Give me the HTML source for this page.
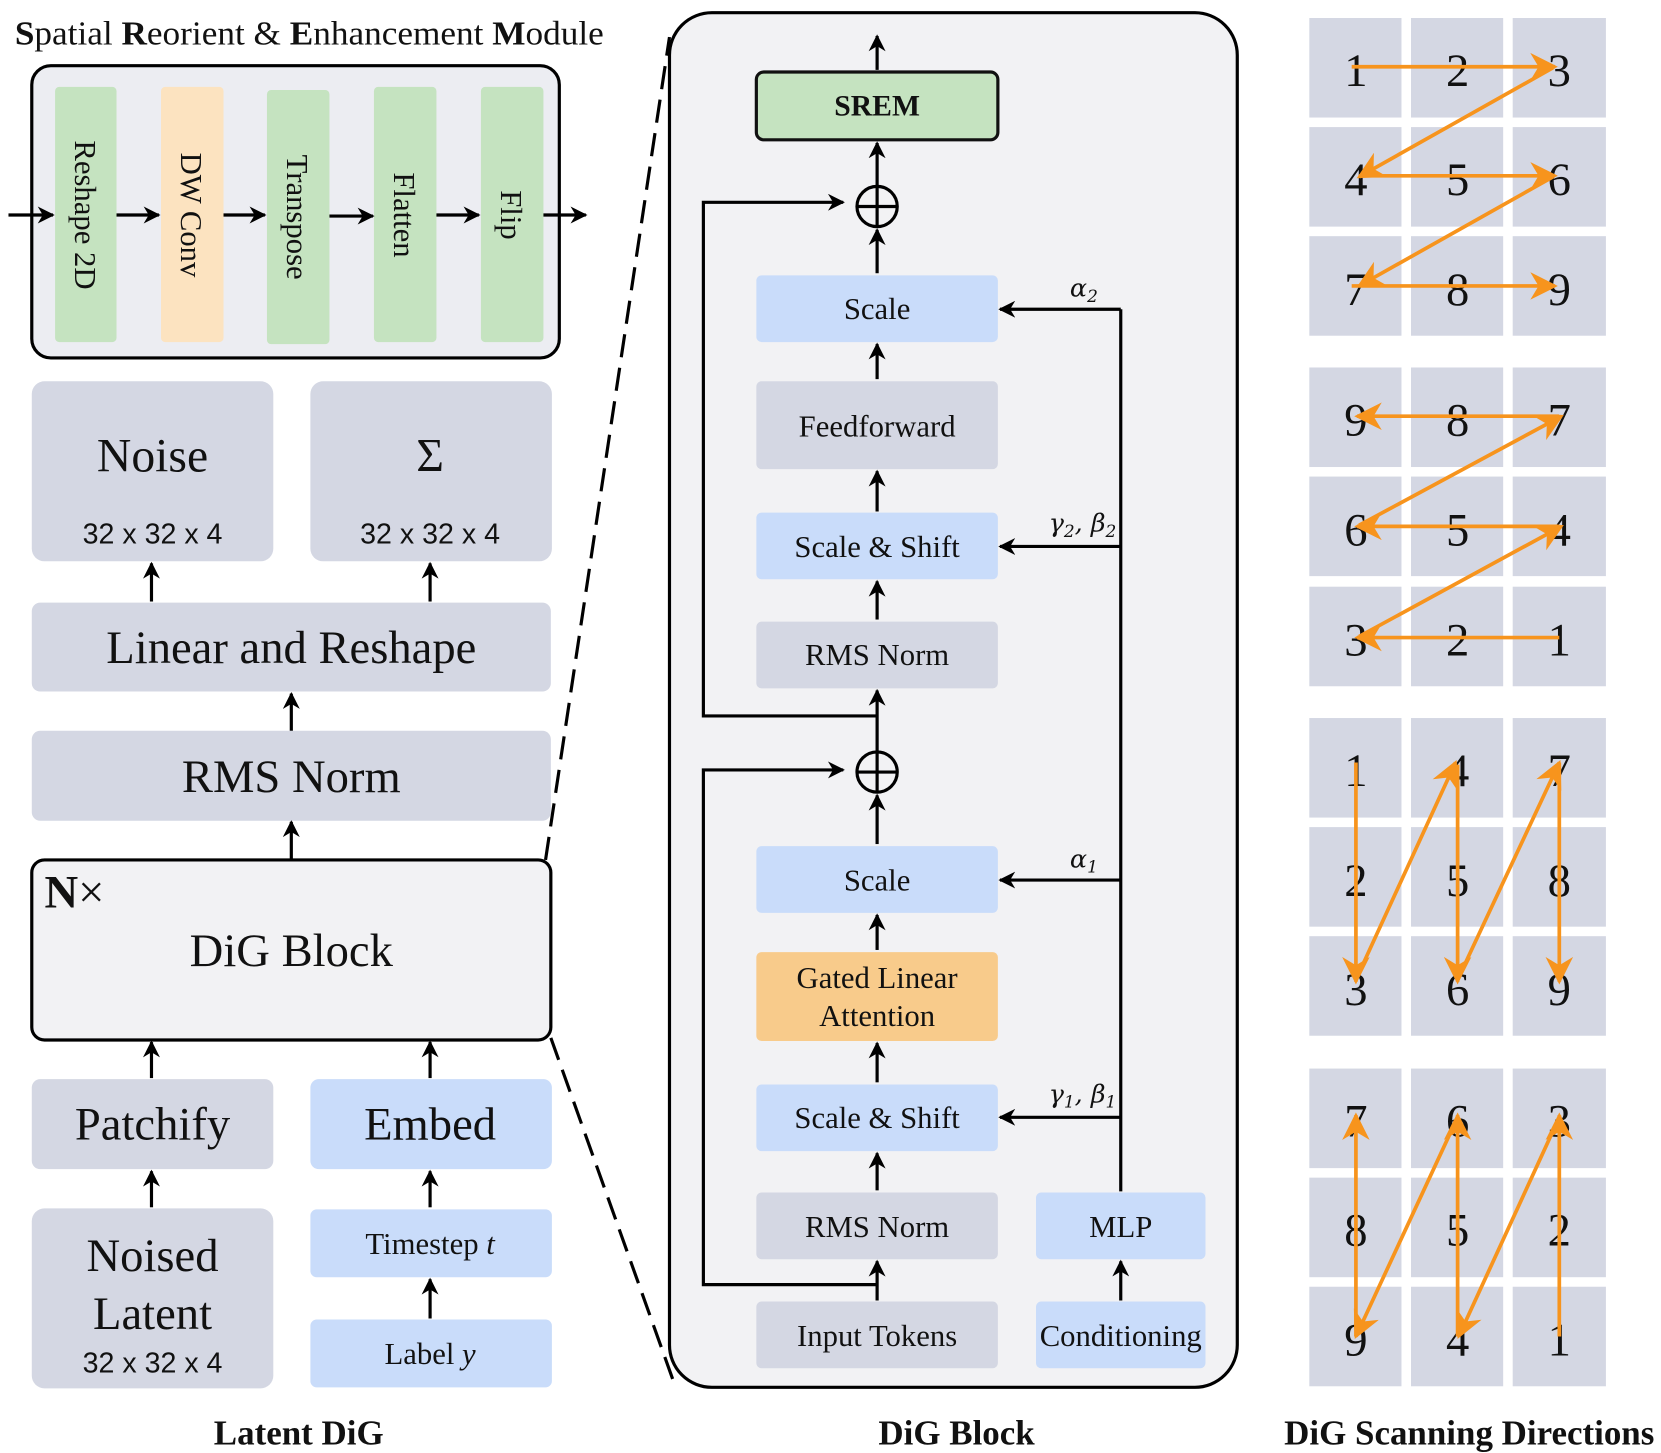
<!DOCTYPE html>
<html><head><meta charset="utf-8"><style>
html,body{margin:0;padding:0;background:#fff}
svg{display:block}
.s{font-family:"Liberation Serif",serif;fill:#111}
.a{font-family:"Liberation Sans",sans-serif;fill:#111}
</style></head><body>
<svg width="1661" height="1453" viewBox="0 0 1568 1372" preserveAspectRatio="none" xmlns="http://www.w3.org/2000/svg">
<defs>
<marker id="k" viewBox="0 0 10 10" refX="9" refY="5" markerWidth="16" markerHeight="16" markerUnits="userSpaceOnUse" orient="auto"><path d="M0,0 L10,5 L0,10 L3,5 z" fill="#000"/></marker>
<marker id="o" viewBox="0 0 10 10" refX="9" refY="5" markerWidth="26" markerHeight="26" markerUnits="userSpaceOnUse" orient="auto"><path d="M0,0 L10,5 L0,10 L3,5 z" fill="#f7941d"/></marker>
</defs>

<!-- SREM module -->
<text x="14" y="42" class="s" font-size="32" textLength="556" lengthAdjust="spacingAndGlyphs"><tspan font-weight="bold">S</tspan>patial <tspan font-weight="bold">R</tspan>eorient &amp; <tspan font-weight="bold">E</tspan>nhancement <tspan font-weight="bold">M</tspan>odule</text>
<rect x="30" y="62" width="498" height="276" rx="18" fill="#ecedf2" stroke="#000" stroke-width="3"/>
<rect x="52" y="82" width="58" height="241" rx="4" fill="#c5e3c0"/>
<rect x="152" y="82" width="59" height="241" rx="4" fill="#fce3c0"/>
<rect x="252" y="85" width="59" height="240" rx="4" fill="#c5e3c0"/>
<rect x="353" y="82" width="59" height="241" rx="4" fill="#c5e3c0"/>
<rect x="454" y="82" width="59" height="241" rx="4" fill="#c5e3c0"/>
<g class="s" font-size="29" text-anchor="middle">
<text transform="translate(71,203) rotate(90)">Reshape 2D</text>
<text transform="translate(171,203) rotate(90)">DW Conv</text>
<text transform="translate(271,205) rotate(90)">Transpose</text>
<text transform="translate(372,203) rotate(90)">Flatten</text>
<text transform="translate(473,203) rotate(90)">Flip</text>
</g>
<g stroke="#000" stroke-width="3" marker-end="url(#k)">
<line x1="8" y1="203" x2="50" y2="203"/><line x1="110" y1="203" x2="150" y2="203"/><line x1="211" y1="203" x2="250" y2="203"/><line x1="311" y1="204" x2="352" y2="204"/><line x1="412" y1="203" x2="452" y2="203"/><line x1="513" y1="203" x2="553" y2="203"/>
</g>

<!-- Latent DiG -->
<rect x="30" y="360" width="228" height="170" rx="12" fill="#d4d7e3"/>
<rect x="293" y="360" width="228" height="170" rx="12" fill="#d4d7e3"/>
<text x="144" y="445" class="s" font-size="45" text-anchor="middle">Noise</text>
<text x="406" y="445" class="s" font-size="45" text-anchor="middle">Σ</text>
<text x="144" y="513" class="a" font-size="27" text-anchor="middle">32 x 32 x 4</text>
<text x="406" y="513" class="a" font-size="27" text-anchor="middle">32 x 32 x 4</text>
<rect x="30" y="569" width="490" height="84" rx="8" fill="#d4d7e3"/>
<text x="275" y="626" class="s" font-size="44" text-anchor="middle">Linear and Reshape</text>
<rect x="30" y="690" width="490" height="85" rx="8" fill="#d4d7e3"/>
<text x="275" y="748" class="s" font-size="44" text-anchor="middle">RMS Norm</text>
<rect x="30" y="812" width="490" height="170" rx="12" fill="#f2f2f4" stroke="#000" stroke-width="3"/>
<text x="42" y="857" class="s" font-size="44"><tspan font-weight="bold">N</tspan>×</text>
<text x="275" y="912" class="s" font-size="44" text-anchor="middle">DiG Block</text>
<rect x="30" y="1019" width="228" height="85" rx="8" fill="#d4d7e3"/>
<rect x="293" y="1019" width="228" height="85" rx="8" fill="#c9dcfa"/>
<text x="144" y="1076" class="s" font-size="44" text-anchor="middle">Patchify</text>
<text x="406" y="1076" class="s" font-size="44" text-anchor="middle">Embed</text>
<rect x="30" y="1141" width="228" height="170" rx="12" fill="#d4d7e3"/>
<text x="144" y="1200" class="s" font-size="44" text-anchor="middle">Noised</text>
<text x="144" y="1255" class="s" font-size="44" text-anchor="middle">Latent</text>
<text x="144" y="1296" class="a" font-size="27" text-anchor="middle">32 x 32 x 4</text>
<rect x="293" y="1142" width="228" height="64" rx="6" fill="#c9dcfa"/>
<text x="406" y="1184" class="s" font-size="29" text-anchor="middle">Timestep <tspan font-style="italic">t</tspan></text>
<rect x="293" y="1246" width="228" height="64" rx="6" fill="#c9dcfa"/>
<text x="406" y="1288" class="s" font-size="29" text-anchor="middle">Label <tspan font-style="italic">y</tspan></text>
<g stroke="#000" stroke-width="3" marker-end="url(#k)">
<line x1="143" y1="568" x2="143" y2="532"/><line x1="406" y1="568" x2="406" y2="532"/>
<line x1="275" y1="690" x2="275" y2="655"/><line x1="275" y1="812" x2="275" y2="776"/>
<line x1="143" y1="1018" x2="143" y2="984"/><line x1="406" y1="1018" x2="406" y2="984"/>
<line x1="143" y1="1140" x2="143" y2="1106"/><line x1="406" y1="1140" x2="406" y2="1106"/>
<line x1="406" y1="1245" x2="406" y2="1208"/>
</g>
<g stroke="#000" stroke-width="3" stroke-dasharray="22,10" fill="none">
<line x1="515" y1="812" x2="632" y2="35"/><line x1="520" y1="980" x2="636" y2="1305"/>
</g>

<!-- DiG Block detail -->
<rect x="632" y="12" width="536" height="1298" rx="40" fill="#f2f2f4" stroke="#000" stroke-width="3"/>
<rect x="714" y="68" width="228" height="64" rx="7" fill="#c5e3c0" stroke="#111" stroke-width="3"/>
<text x="828" y="109" class="s" font-size="28" font-weight="bold" text-anchor="middle">SREM</text>
<g fill="#c9dcfa"><rect x="714" y="260" width="228" height="63" rx="5"/><rect x="714" y="484" width="228" height="63" rx="5"/><rect x="714" y="799" width="228" height="63" rx="5"/><rect x="714" y="1024" width="228" height="63" rx="5"/><rect x="978" y="1126" width="160" height="63" rx="5"/><rect x="978" y="1229" width="160" height="63" rx="5"/></g>
<g fill="#d4d7e3"><rect x="714" y="360" width="228" height="83" rx="5"/><rect x="714" y="587" width="228" height="63" rx="5"/><rect x="714" y="1126" width="228" height="63" rx="5"/><rect x="714" y="1229" width="228" height="63" rx="5"/></g>
<rect x="714" y="899" width="228" height="84" rx="5" fill="#f8cb8b"/>
<g class="s" font-size="29" text-anchor="middle">
<text x="828" y="301">Scale</text><text x="828" y="412">Feedforward</text><text x="828" y="526">Scale &amp; Shift</text><text x="828" y="628">RMS Norm</text>
<text x="828" y="841">Scale</text><text x="828" y="933">Gated Linear</text><text x="828" y="969">Attention</text><text x="828" y="1065">Scale &amp; Shift</text><text x="828" y="1168">RMS Norm</text><text x="828" y="1271">Input Tokens</text>
<text x="1058" y="1168">MLP</text><text x="1058" y="1271">Conditioning</text>
</g>
<g fill="none" stroke="#000" stroke-width="3">
<circle cx="828" cy="195" r="19"/><line x1="809" y1="195" x2="847" y2="195"/><line x1="828" y1="176" x2="828" y2="214"/>
<circle cx="828" cy="729" r="19"/><line x1="809" y1="729" x2="847" y2="729"/><line x1="828" y1="710" x2="828" y2="748"/>
<polyline points="828,676 664,676 664,191 796,191" marker-end="url(#k)"/>
<polyline points="828,1213 664,1213 664,727 796,727" marker-end="url(#k)"/>
<polyline points="1058,1125 1058,292"/>
</g>
<g stroke="#000" stroke-width="3" marker-end="url(#k)">
<line x1="828" y1="66" x2="828" y2="34"/><line x1="828" y1="175" x2="828" y2="135"/><line x1="828" y1="258" x2="828" y2="217"/>
<line x1="828" y1="358" x2="828" y2="325"/><line x1="828" y1="483" x2="828" y2="445"/><line x1="828" y1="585" x2="828" y2="549"/>
<line x1="828" y1="709" x2="828" y2="652"/><line x1="828" y1="797" x2="828" y2="751"/><line x1="828" y1="897" x2="828" y2="864"/>
<line x1="828" y1="1022" x2="828" y2="985"/><line x1="828" y1="1124" x2="828" y2="1089"/><line x1="828" y1="1228" x2="828" y2="1191"/>
<line x1="1058" y1="1228" x2="1058" y2="1191"/>
<line x1="1058" y1="292" x2="944" y2="292"/><line x1="1058" y1="516" x2="944" y2="516"/><line x1="1058" y1="831" x2="944" y2="831"/><line x1="1058" y1="1055" x2="944" y2="1055"/>
</g>
<g font-family="'DejaVu Serif',serif" font-size="24" font-style="italic" fill="#111">
<text x="1010" y="280">α<tspan font-size="16" dy="5">2</tspan></text>
<text x="990" y="502">γ<tspan font-size="16" dy="5">2</tspan><tspan dy="-5">, β</tspan><tspan font-size="16" dy="5">2</tspan></text>
<text x="1010" y="819">α<tspan font-size="16" dy="5">1</tspan></text>
<text x="990" y="1041">γ<tspan font-size="16" dy="5">1</tspan><tspan dy="-5">, β</tspan><tspan font-size="16" dy="5">1</tspan></text>
</g>

<!-- Scanning grids -->
<g fill="#d4d7e3">
<rect x="1236" y="17" width="87" height="94"/><rect x="1332" y="17" width="87" height="94"/><rect x="1428" y="17" width="88" height="94"/>
<rect x="1236" y="120" width="87" height="94"/><rect x="1332" y="120" width="87" height="94"/><rect x="1428" y="120" width="88" height="94"/>
<rect x="1236" y="223" width="87" height="94"/><rect x="1332" y="223" width="87" height="94"/><rect x="1428" y="223" width="88" height="94"/>
<rect x="1236" y="347" width="87" height="94"/><rect x="1332" y="347" width="87" height="94"/><rect x="1428" y="347" width="88" height="94"/>
<rect x="1236" y="450" width="87" height="94"/><rect x="1332" y="450" width="87" height="94"/><rect x="1428" y="450" width="88" height="94"/>
<rect x="1236" y="554" width="87" height="94"/><rect x="1332" y="554" width="87" height="94"/><rect x="1428" y="554" width="88" height="94"/>
<rect x="1236" y="678" width="87" height="94"/><rect x="1332" y="678" width="87" height="94"/><rect x="1428" y="678" width="88" height="94"/>
<rect x="1236" y="781" width="87" height="94"/><rect x="1332" y="781" width="87" height="94"/><rect x="1428" y="781" width="88" height="94"/>
<rect x="1236" y="884" width="87" height="94"/><rect x="1332" y="884" width="87" height="94"/><rect x="1428" y="884" width="88" height="94"/>
<rect x="1236" y="1009" width="87" height="94"/><rect x="1332" y="1009" width="87" height="94"/><rect x="1428" y="1009" width="88" height="94"/>
<rect x="1236" y="1112" width="87" height="94"/><rect x="1332" y="1112" width="87" height="94"/><rect x="1428" y="1112" width="88" height="94"/>
<rect x="1236" y="1215" width="87" height="94"/><rect x="1332" y="1215" width="87" height="94"/><rect x="1428" y="1215" width="88" height="94"/>
</g>
<g class="s" font-size="44" text-anchor="middle">
<text x="1280" y="81">1</text><text x="1376" y="81">2</text><text x="1472" y="81">3</text>
<text x="1280" y="184">4</text><text x="1376" y="184">5</text><text x="1472" y="184">6</text>
<text x="1280" y="288">7</text><text x="1376" y="288">8</text><text x="1472" y="288">9</text>
<text x="1280" y="411">9</text><text x="1376" y="411">8</text><text x="1472" y="411">7</text>
<text x="1280" y="515">6</text><text x="1376" y="515">5</text><text x="1472" y="515">4</text>
<text x="1280" y="619">3</text><text x="1376" y="619">2</text><text x="1472" y="619">1</text>
<text x="1280" y="742">1</text><text x="1376" y="742">4</text><text x="1472" y="742">7</text>
<text x="1280" y="846">2</text><text x="1376" y="846">5</text><text x="1472" y="846">8</text>
<text x="1280" y="949">3</text><text x="1376" y="949">6</text><text x="1472" y="949">9</text>
<text x="1280" y="1073">7</text><text x="1376" y="1073">6</text><text x="1472" y="1073">3</text>
<text x="1280" y="1176">8</text><text x="1376" y="1176">5</text><text x="1472" y="1176">2</text>
<text x="1280" y="1280">9</text><text x="1376" y="1280">4</text><text x="1472" y="1280">1</text>
</g>
<g stroke="#f7941d" stroke-width="3.5" marker-end="url(#o)">
<line x1="1276" y1="63" x2="1468" y2="63"/><line x1="1466" y1="64" x2="1283" y2="167"/><line x1="1283" y1="166" x2="1468" y2="166"/><line x1="1466" y1="167" x2="1283" y2="270"/><line x1="1276" y1="270" x2="1468" y2="270"/>
<line x1="1472" y1="602" x2="1281" y2="602"/><line x1="1283" y1="601" x2="1474" y2="497"/><line x1="1472" y1="497" x2="1281" y2="497"/><line x1="1283" y1="496" x2="1474" y2="393"/><line x1="1472" y1="393" x2="1281" y2="393"/>
<line x1="1280" y1="720" x2="1280" y2="927"/><line x1="1280" y1="925" x2="1374" y2="720"/><line x1="1376" y1="722" x2="1376" y2="927"/><line x1="1376" y1="925" x2="1472" y2="720"/><line x1="1472" y1="720" x2="1472" y2="927"/>
<line x1="1472" y1="1262" x2="1472" y2="1053"/><line x1="1472" y1="1055" x2="1377" y2="1262"/><line x1="1376" y1="1262" x2="1376" y2="1053"/><line x1="1376" y1="1055" x2="1280" y2="1262"/><line x1="1280" y1="1262" x2="1280" y2="1053"/>
</g>

<g class="s" font-size="33" font-weight="bold" text-anchor="middle">
<text x="282" y="1364">Latent DiG</text><text x="903" y="1364">DiG Block</text><text x="1387" y="1364">DiG Scanning Directions</text>
</g>
</svg>
</body></html>
